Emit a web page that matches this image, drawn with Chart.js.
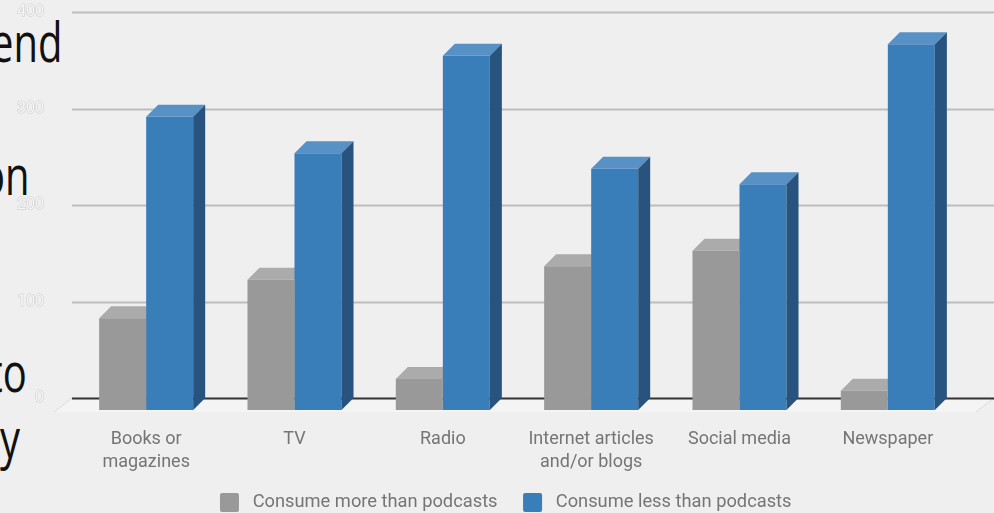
<!DOCTYPE html>
<html>
<head>
<meta charset="utf-8">
<script src="https://cdn.jsdelivr.net/npm/chart.js@4.4.1/dist/chart.umd.min.js"></script>
<style>
  html, body { margin: 0; padding: 0; background: #efefef; overflow: hidden; }
  #wrap { position: relative; width: 994px; height: 513px; overflow: hidden; }
  .slide { position: absolute; font-family: "Open Sans", sans-serif; font-size: 54px; line-height: 54px;
           color: #111; white-space: nowrap; transform: scaleX(0.74); transform-origin: right top; }
  #podcastChart { position: absolute; left: 0; top: 0; }
</style>
</head>
<body>
<div id="wrap">
  <!-- slide text running behind the chart -->
  <div class="slide" style="right: 932px; top: 14px;">end</div>
  <div class="slide" style="right: 964px; top: 147px;">on</div>
  <div class="slide" style="right: 967px; top: 344px;">to</div>
  <div class="slide" style="right: 974px; top: 410px;">y</div>
  <canvas id="podcastChart" width="994" height="513"></canvas>
</div>
<script>
// 類別與數值
const categories = [["Books or", "magazines"], "TV", "Radio", ["Internet articles", "and/or blogs"], "Social media", "Newspaper"];
const moreThanPodcasts = [95, 135, 32, 149, 165, 20];
const lessThanPodcasts = [304, 266, 367, 250, 234, 379];
const seriesNames = ["Consume more than podcasts", "Consume less than podcasts"];
const yTicks = [0, 100, 200, 300, 400];

// 3D 深度 (像素)
const DEPTH_X = 12;
const DEPTH_Y = 12;

const faceColors = [
    { front: "#999999", top: "#ababab", side: "#7b7b7b" },
    { front: "#3a7eb9", top: "#5891c6", side: "#27537e" }
];

function drawFaces(ctx, bar, colors) {
    const p = bar.getProps(["x", "y", "base", "width"], true);
    const left = p.x - p.width / 2;
    const right = p.x + p.width / 2;
    const top = p.y, bottom = p.base;

    // 頂面
    ctx.fillStyle = colors.top;
    ctx.beginPath();
    ctx.moveTo(left, top);
    ctx.lineTo(left + DEPTH_X, top - DEPTH_Y);
    ctx.lineTo(right + DEPTH_X, top - DEPTH_Y);
    ctx.lineTo(right, top);
    ctx.closePath();
    ctx.fill();

    // 側面
    ctx.fillStyle = colors.side;
    ctx.beginPath();
    ctx.moveTo(right, top);
    ctx.lineTo(right + DEPTH_X, top - DEPTH_Y);
    ctx.lineTo(right + DEPTH_X, bottom - DEPTH_Y);
    ctx.lineTo(right, bottom);
    ctx.closePath();
    ctx.fill();
}

// 背景牆格線、地板與立體面
const box3d = {
    id: "box3d",
    beforeDatasetsDraw(chart) {
        const ctx = chart.ctx;
        const area = chart.chartArea;
        const y = chart.scales.y;
        const zeroBack = y.getPixelForValue(0) - DEPTH_Y;
        const wallLeft = area.left;
        ctx.save();

        // 地板
        ctx.fillStyle = "#f4f4f4";
        ctx.beginPath();
        ctx.moveTo(wallLeft, zeroBack);
        ctx.lineTo(chart.width, zeroBack);
        ctx.lineTo(chart.width - 18, zeroBack + DEPTH_Y + 2);
        ctx.lineTo(wallLeft - 18, zeroBack + DEPTH_Y + 2);
        ctx.closePath();
        ctx.fill();
        ctx.strokeStyle = "#dadada";
        ctx.lineWidth = 1;
        ctx.beginPath();
        ctx.moveTo(wallLeft, zeroBack);
        ctx.lineTo(wallLeft - 18, zeroBack + DEPTH_Y + 2);
        ctx.moveTo(chart.width, zeroBack);
        ctx.lineTo(chart.width - 18, zeroBack + DEPTH_Y + 2);
        ctx.stroke();

        // 格線
        yTicks.forEach(v => {
            const py = Math.round(y.getPixelForValue(v) - DEPTH_Y) + 0.5;
            ctx.strokeStyle = v === 0 ? "#333333" : "#bdbdbd";
            ctx.lineWidth = 2;
            ctx.beginPath();
            ctx.moveTo(wallLeft, py);
            ctx.lineTo(chart.width, py);
            ctx.stroke();
        });

        // 灰色柱的頂面 (超出部分之後由藍色柱正面蓋掉)
        chart.getDatasetMeta(0).data.forEach(bar => drawFaces(ctx, bar, faceColors[0]));
        ctx.restore();
    },
    afterDatasetsDraw(chart) {
        const ctx = chart.ctx;
        ctx.save();
        chart.getDatasetMeta(1).data.forEach(bar => drawFaces(ctx, bar, faceColors[1]));
        ctx.restore();
    }
};

const ctx = document.getElementById("podcastChart").getContext("2d");
new Chart(ctx, {
    type: "bar",
    data: {
        labels: categories,
        datasets: [
            {
                label: seriesNames[0],
                data: moreThanPodcasts,
                backgroundColor: faceColors[0].front,
                borderWidth: 0,
                categoryPercentage: 0.634,
                barPercentage: 1.0
            },
            {
                label: seriesNames[1],
                data: lessThanPodcasts,
                backgroundColor: faceColors[1].front,
                borderWidth: 0,
                categoryPercentage: 0.634,
                barPercentage: 1.0
            }
        ]
    },
    options: {
        responsive: false,
        animation: false,
        layout: { padding: { top: 24, right: -12, bottom: -9, left: 10 } },
        plugins: {
            legend: {
                position: "bottom",
                labels: {
                    boxWidth: 19,
                    boxHeight: 19,
                    padding: 21,
                    useBorderRadius: true,
                    borderRadius: 2,
                    color: "#757575",
                    font: { family: "Roboto", size: 18.3 },
                    // 方塊與文字之間多留一點空隙
                    generateLabels(chart) {
                        const items = Chart.defaults.plugins.legend.labels.generateLabels(chart);
                        items.forEach(it => { it.text = " " + it.text + " "; });
                        return items;
                    }
                }
            },
            tooltip: { enabled: false }
        },
        scales: {
            x: {
                grid: { display: false, drawTicks: false },
                border: { display: false },
                ticks: {
                    padding: 18,
                    color: "#757575",
                    font: { family: "Roboto", size: 18, lineHeight: 1.28 },
                    maxRotation: 0
                },
                afterFit(scale) { scale.height = 62; }
            },
            y: {
                min: 0,
                max: 400,
                grid: { display: false, drawTicks: true, tickLength: 24 },
                border: { display: false },
                ticks: {
                    stepSize: 100,
                    padding: 4,
                    labelOffset: -DEPTH_Y,
                    color: "#f6f6f6",
                    textStrokeColor: "#c9c9c9",
                    textStrokeWidth: 1,
                    font: { family: "Roboto", size: 16 }
                },
                afterFit(scale) { scale.width = 62; }
            },
            // 右側留白
            yRight: {
                position: "right",
                grid: { display: false, drawTicks: false },
                border: { display: false },
                ticks: { display: false },
                afterFit(scale) { scale.width = 44; }
            }
        }
    },
    plugins: [box3d]
});
</script>
</body>
</html>
